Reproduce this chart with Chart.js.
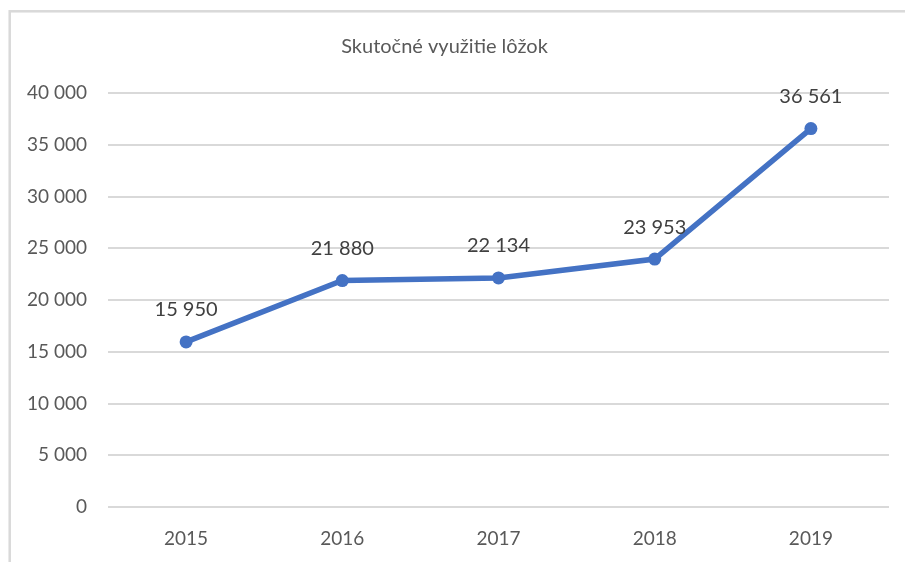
<!DOCTYPE html>
<html>
<head>
<meta charset="utf-8">
<script src="https://cdn.jsdelivr.net/npm/chart.js@4"></script>
<style>
  html, body { margin: 0; padding: 0; background: #ffffff; }
  canvas { display: block; }
</style>
</head>
<body>
<canvas id="myChart" width="905" height="562"></canvas>
<script>
const years = ['2015', '2016', '2017', '2018', '2019'];
const bedUsage = [15950, 21880, 22134, 23953, 36561]; // Skutočné využitie lôžok
const chartTitle = 'Skutočné využitie lôžok';

// number with space as thousands separator, like "36 561"
function fmt(v) {
    return String(v).replace(/\B(?=(\d{3})+(?!\d))/g, ' ');
}

// light frame around the whole chart
const framePlugin = {
    id: 'frame',
    beforeDraw(chart) {
        const c = chart.ctx;
        c.save();
        c.strokeStyle = '#d9d9d9';
        c.lineWidth = 2.5;
        c.strokeRect(9.7, 11.3, 2000, 2000);
        c.restore();
    }
};

// value labels above each point
const valueLabels = {
    id: 'valueLabels',
    afterDatasetsDraw(chart) {
        const c = chart.ctx;
        const meta = chart.getDatasetMeta(0);
        c.save();
        c.font = '20px Lato';
        c.fillStyle = '#404040';
        c.textAlign = 'center';
        c.textBaseline = 'middle';
        meta.data.forEach((pt, i) => {
            c.fillText(fmt(chart.data.datasets[0].data[i]), pt.x, pt.y - 32);
        });
        c.restore();
    }
};

const ctx = document.getElementById('myChart').getContext('2d');
const myChart = new Chart(ctx, {
    type: 'line',
    data: {
        labels: years,
        datasets: [{
            label: chartTitle,
            data: bedUsage,
            borderColor: '#4472c4',
            backgroundColor: '#4472c4',
            borderWidth: 5.5,
            pointRadius: 6.5,
            pointBackgroundColor: '#4472c4',
            pointBorderWidth: 0,
            tension: 0
        }]
    },
    options: {
        responsive: false,
        animation: false,
        devicePixelRatio: 1,
        layout: {
            padding: { left: 0, right: 16, top: 0, bottom: 0 }
        },
        plugins: {
            legend: { display: false },
            tooltip: { enabled: false },
            title: {
                display: true,
                text: chartTitle,
                color: '#595959',
                font: { family: 'Lato', size: 20, weight: 'normal' },
                padding: { top: 35, bottom: 34 }
            }
        },
        scales: {
            x: {
                offset: true,
                afterFit(scale) { scale.height = 55; },
                grid: { display: false, drawTicks: false },
                border: { display: false },
                ticks: {
                    color: '#595959',
                    font: { family: 'Lato', size: 19 },
                    padding: 20
                }
            },
            y: {
                min: 0,
                max: 40000,
                afterFit(scale) { scale.width = 108; },
                grid: { color: '#d9d9d9', lineWidth: 2, drawTicks: false },
                border: { display: false },
                ticks: {
                    stepSize: 5000,
                    color: '#595959',
                    font: { family: 'Lato', size: 19 },
                    padding: 21,
                    callback: v => fmt(v)
                }
            }
        }
    },
    plugins: [framePlugin, valueLabels]
});
</script>
</body>
</html>
